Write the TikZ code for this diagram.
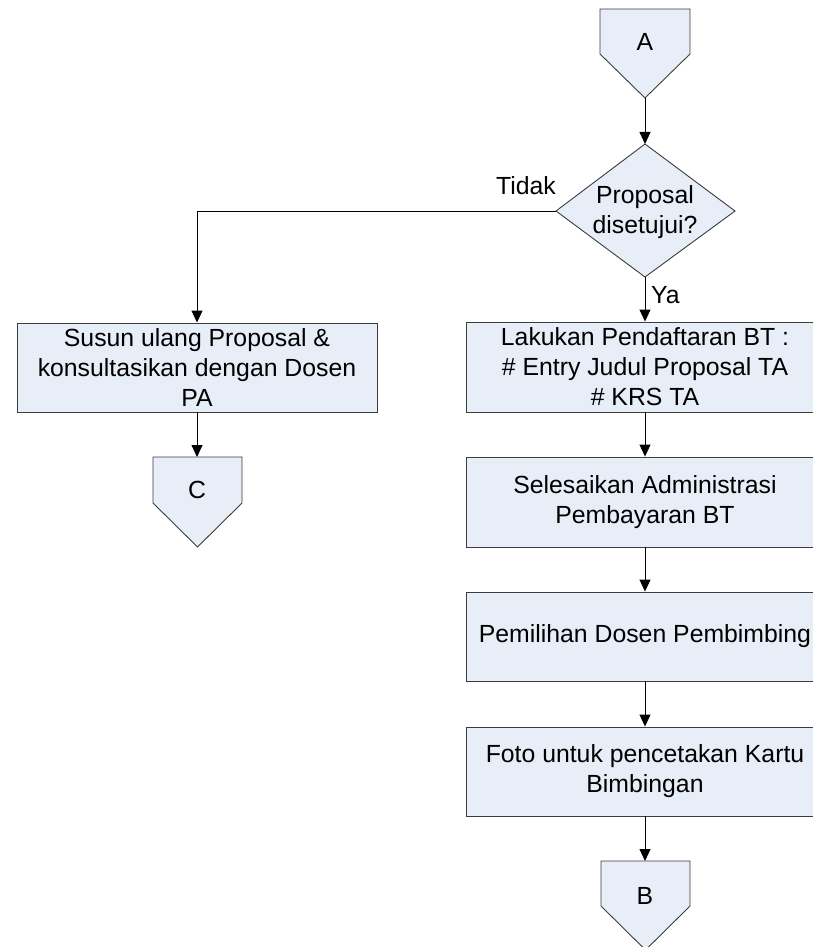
\documentclass[tikz,border=0pt]{standalone}
\usepackage{fontspec}
\setmainfont{Liberation Sans}
\usetikzlibrary{arrows.meta}
\definecolor{boxfill}{RGB}{232,238,247}
\definecolor{boxline}{RGB}{60,60,60}
\begin{document}
\begin{tikzpicture}[x=1pt,y=-1pt,
 shp/.style={draw=boxline, fill=boxfill, line width=0.9pt},
 box/.style={shp, inner sep=0pt, align=center, font=\fontsize{24.8}{30}\selectfont},
 lbl/.style={font=\fontsize{24.8}{30}\selectfont, inner sep=0pt, align=center},
 arr/.style={-{Triangle[width=11pt,length=12pt]}, line width=0.9pt}]
\useasboundingbox (0,0) rectangle (813,947);
\clip (0,0) rectangle (813,947);
% connector A
\path[shp] (600,9) -- (690,9) -- (690,54) -- (645,98) -- (600,54) -- cycle;
\node[lbl] (A) at (645,42) {A};
\coordinate (Abot) at (645,98);
% decision
\coordinate (dtop) at (645,144);
\coordinate (dleft) at (556,211);
\coordinate (dright) at (735,211);
\coordinate (dbot) at (645,277);
\path[shp] (dtop) -- (dright) -- (dbot) -- (dleft) -- cycle;
\node[lbl] (dec) at (645,212) {Proposal\\disetujui?};
% boxes
\node[box, minimum width=360pt, minimum height=89pt] (bl) at (197,367.5) {Susun ulang Proposal \&\\konsultasikan dengan Dosen\\PA};
\node[box, minimum width=358pt, minimum height=90pt] (b1) at (645,367) {Lakukan Pendaftaran BT :\\\# Entry Judul Proposal TA\\\# KRS TA};
\node[box, minimum width=358pt, minimum height=90pt] (b2) at (645,502) {Selesaikan Administrasi\\Pembayaran BT};
\node[box, minimum width=358pt, minimum height=89pt] (b3) at (645,636.5) {Pemilihan Dosen Pembimbing};
\node[box, minimum width=358pt, minimum height=89pt] (b4) at (645,771.5) {Foto untuk pencetakan Kartu\\Bimbingan};
% connector C
\path[shp] (153,457) -- (242,457) -- (242,503) -- (197.5,547) -- (153,503) -- cycle;
\coordinate (Ctop) at (197,457);
\node[lbl] (C) at (197,490) {C};
% connector B
\path[shp] (601,861) -- (690,861) -- (690,906) -- (645.5,950) -- (601,906) -- cycle;
\coordinate (Btop) at (645,861);
\node[lbl] (B) at (645,896) {B};
% arrows
\draw[arr] (Abot) -- (dtop);
\draw[arr] (dbot) -- (b1.north);
\draw[arr] (dleft) -| (bl.north);
\draw[arr] (bl.south) -- (Ctop);
\draw[arr] (b1.south) -- (b2.north);
\draw[arr] (b2.south) -- (b3.north);
\draw[arr] (b3.south) -- (b4.north);
\draw[arr] (b4.south) -- (Btop);
% labels
\node[lbl, anchor=west] (ya) at (651,295) {Ya};
\node[lbl] (tidak) at (526,186) {Tidak};
\end{tikzpicture}
\end{document}
